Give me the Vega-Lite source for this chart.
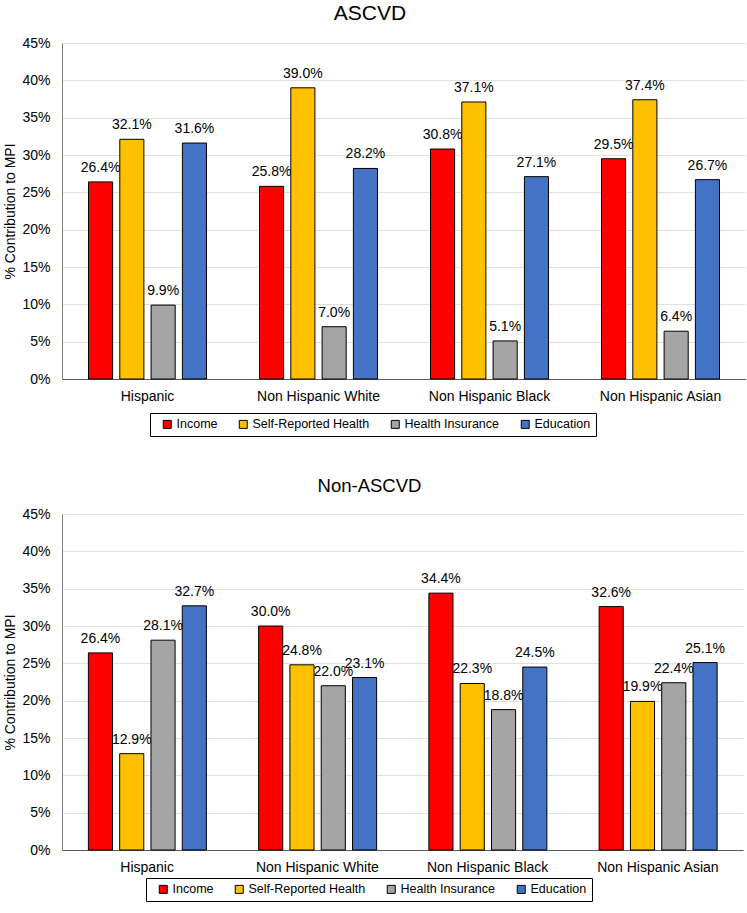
{
  "$schema": "https://vega.github.io/schema/vega-lite/v6.json",
  "background": "white",
  "padding": {"left": 3, "right": 0, "top": 3, "bottom": 3},
  "datasets": {
    "rows": [
      {"panel": "ASCVD", "group": "Hispanic", "factor": "Income", "value": 0.264},
      {"panel": "ASCVD", "group": "Hispanic", "factor": "Self-Reported Health", "value": 0.321},
      {"panel": "ASCVD", "group": "Hispanic", "factor": "Health Insurance", "value": 0.099},
      {"panel": "ASCVD", "group": "Hispanic", "factor": "Education", "value": 0.316},
      {"panel": "ASCVD", "group": "Non Hispanic White", "factor": "Income", "value": 0.258},
      {"panel": "ASCVD", "group": "Non Hispanic White", "factor": "Self-Reported Health", "value": 0.390},
      {"panel": "ASCVD", "group": "Non Hispanic White", "factor": "Health Insurance", "value": 0.070},
      {"panel": "ASCVD", "group": "Non Hispanic White", "factor": "Education", "value": 0.282},
      {"panel": "ASCVD", "group": "Non Hispanic Black", "factor": "Income", "value": 0.308},
      {"panel": "ASCVD", "group": "Non Hispanic Black", "factor": "Self-Reported Health", "value": 0.371},
      {"panel": "ASCVD", "group": "Non Hispanic Black", "factor": "Health Insurance", "value": 0.051},
      {"panel": "ASCVD", "group": "Non Hispanic Black", "factor": "Education", "value": 0.271},
      {"panel": "ASCVD", "group": "Non Hispanic Asian", "factor": "Income", "value": 0.295},
      {"panel": "ASCVD", "group": "Non Hispanic Asian", "factor": "Self-Reported Health", "value": 0.374},
      {"panel": "ASCVD", "group": "Non Hispanic Asian", "factor": "Health Insurance", "value": 0.064},
      {"panel": "ASCVD", "group": "Non Hispanic Asian", "factor": "Education", "value": 0.267},
      {"panel": "Non-ASCVD", "group": "Hispanic", "factor": "Income", "value": 0.264},
      {"panel": "Non-ASCVD", "group": "Hispanic", "factor": "Self-Reported Health", "value": 0.129},
      {"panel": "Non-ASCVD", "group": "Hispanic", "factor": "Health Insurance", "value": 0.281},
      {"panel": "Non-ASCVD", "group": "Hispanic", "factor": "Education", "value": 0.327},
      {"panel": "Non-ASCVD", "group": "Non Hispanic White", "factor": "Income", "value": 0.300},
      {"panel": "Non-ASCVD", "group": "Non Hispanic White", "factor": "Self-Reported Health", "value": 0.248},
      {"panel": "Non-ASCVD", "group": "Non Hispanic White", "factor": "Health Insurance", "value": 0.220},
      {"panel": "Non-ASCVD", "group": "Non Hispanic White", "factor": "Education", "value": 0.231},
      {"panel": "Non-ASCVD", "group": "Non Hispanic Black", "factor": "Income", "value": 0.344},
      {"panel": "Non-ASCVD", "group": "Non Hispanic Black", "factor": "Self-Reported Health", "value": 0.223},
      {"panel": "Non-ASCVD", "group": "Non Hispanic Black", "factor": "Health Insurance", "value": 0.188},
      {"panel": "Non-ASCVD", "group": "Non Hispanic Black", "factor": "Education", "value": 0.245},
      {"panel": "Non-ASCVD", "group": "Non Hispanic Asian", "factor": "Income", "value": 0.326},
      {"panel": "Non-ASCVD", "group": "Non Hispanic Asian", "factor": "Self-Reported Health", "value": 0.199},
      {"panel": "Non-ASCVD", "group": "Non Hispanic Asian", "factor": "Health Insurance", "value": 0.224},
      {"panel": "Non-ASCVD", "group": "Non Hispanic Asian", "factor": "Education", "value": 0.251}
    ]
  },
  "data": {"name": "rows"},
  "spacing": 39,
  "resolve": {"scale": {"color": "independent"}},
  "vconcat": [
    {
      "title": {"text": "ASCVD", "fontSize": 21, "fontWeight": "normal", "offset": 12, "dx": -34},
      "width": 684,
      "height": 336,
      "transform": [{"filter": "datum.panel === 'ASCVD'"}],
      "encoding": {
        "x": {"field": "group", "type": "nominal", "sort": null, "title": null,
              "scale": {"paddingInner": 0.31, "paddingOuter": 0.155}},
        "xOffset": {"field": "factor", "type": "nominal", "sort": ["Income", "Self-Reported Health", "Health Insurance", "Education"],
                    "scale": {"paddingInner": 0.23, "paddingOuter": 0}},
        "y": {"field": "value", "type": "quantitative", "title": "% Contribution to MPI",
              "scale": {"domain": [0, 0.45], "nice": false},
              "axis": {"format": ".0%", "values": [0, 0.05, 0.1, 0.15, 0.2, 0.25, 0.3, 0.35, 0.4, 0.45]}}
      },
      "layer": [
        {"mark": {"type": "text", "baseline": "bottom", "dy": -7, "fontSize": 14, "color": "black"},
         "encoding": {"text": {"field": "value", "type": "quantitative", "format": ".1%"}}},
        {"mark": {"type": "bar", "stroke": "black", "strokeWidth": 1},
         "encoding": {"color": {"field": "factor", "type": "nominal", "title": null,
                                "sort": ["Income", "Self-Reported Health", "Health Insurance", "Education"],
                                "scale": {"domain": ["Income", "Self-Reported Health", "Health Insurance", "Education"],
                                          "range": ["#FF0000", "#FFC000", "#A5A5A5", "#4472C4"]},
                                "legend": {"orient": "none", "legendX": 88, "legendY": 370, "direction": "horizontal", "columns": 4}}}}
      ]
    },
    {
      "title": {"text": "Non-ASCVD", "fontSize": 18.5, "fontWeight": "normal", "offset": 12, "dx": -33},
      "width": 681,
      "height": 336,
      "transform": [{"filter": "datum.panel === 'Non-ASCVD'"}],
      "encoding": {
        "x": {"field": "group", "type": "nominal", "sort": null, "title": null,
              "scale": {"paddingInner": 0.31, "paddingOuter": 0.155}},
        "xOffset": {"field": "factor", "type": "nominal", "sort": ["Income", "Self-Reported Health", "Health Insurance", "Education"],
                    "scale": {"paddingInner": 0.23, "paddingOuter": 0}},
        "y": {"field": "value", "type": "quantitative", "title": "% Contribution to MPI",
              "scale": {"domain": [0, 0.45], "nice": false},
              "axis": {"format": ".0%", "values": [0, 0.05, 0.1, 0.15, 0.2, 0.25, 0.3, 0.35, 0.4, 0.45]}}
      },
      "layer": [
        {"mark": {"type": "text", "baseline": "bottom", "dy": -7, "fontSize": 14, "color": "black"},
         "encoding": {"text": {"field": "value", "type": "quantitative", "format": ".1%"}}},
        {"mark": {"type": "bar", "stroke": "black", "strokeWidth": 1},
         "encoding": {"color": {"field": "factor", "type": "nominal", "title": null,
                                "sort": ["Income", "Self-Reported Health", "Health Insurance", "Education"],
                                "scale": {"domain": ["Income", "Self-Reported Health", "Health Insurance", "Education"],
                                          "range": ["#FF0000", "#FFC000", "#A5A5A5", "#4472C4"]},
                                "legend": {"orient": "none", "legendX": 84, "legendY": 364, "direction": "horizontal", "columns": 4}}}}
      ]
    }
  ],
  "config": {
    "font": "Liberation Sans",
    "view": {"stroke": null},
    "title": {"font": "Liberation Sans", "color": "black"},
    "axis": {"labelFont": "Liberation Sans", "titleFont": "Liberation Sans", "labelColor": "black", "titleColor": "black",
             "labelFontSize": 14, "titleFontSize": 14, "titleFontWeight": "normal", "ticks": false,
             "domainColor": "#7f7f7f", "gridColor": "#e0e0e0"},
    "axisX": {"labelAngle": 0, "labelPadding": 10, "grid": false, "domainColor": "#595959"},
    "axisY": {"labelPadding": 12, "titlePadding": 4},
    "legend": {"strokeColor": "black", "padding": 5,
               "symbolType": "square", "symbolStrokeColor": "black", "symbolStrokeWidth": 1, "symbolSize": 64,
               "labelFont": "Liberation Sans", "labelFontSize": 12.5, "labelColor": "black", "columnPadding": 13,
               "symbolOffset": 6, "labelOffset": 3, "fillColor": "white"}
  }
}
